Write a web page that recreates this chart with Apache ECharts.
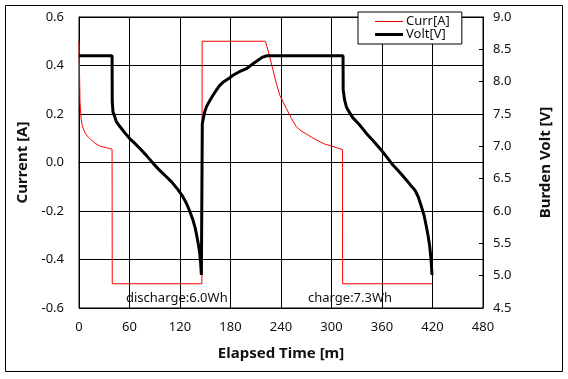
<!DOCTYPE html>
<html>
<head>
<meta charset="utf-8">
<script src="https://cdn.jsdelivr.net/npm/echarts@6/dist/echarts.min.js"></script>
<style>
html,body{margin:0;padding:0;background:#fff;}
#chart{width:568px;height:379px;}
</style>
</head>
<body>
<div id="chart"></div>
<script>
// ---- data ----
const xTicks = [0, 60, 120, 180, 240, 300, 360, 420, 480];
const currTime = [0, 1.2, 2.5, 4, 6.8, 9.5, 12.7, 15.5, 18.7, 21.5, 24.6, 28.5, 32.6, 36, 39.3, 39.5,
  146, 146.3, 221.5, 223.4, 226.6, 230.5, 234.5, 238.5, 242.4, 246.4, 252.3, 258.3, 264, 270, 276, 282,
  291.9, 299.9, 306, 313, 313.2, 419.9];
const currA = [0.5, 0.25, 0.18, 0.15, 0.125, 0.11, 0.1, 0.09, 0.081, 0.074, 0.068, 0.064, 0.061, 0.058, 0.055, -0.5,
  -0.5, 0.5, 0.5, 0.477, 0.435, 0.381, 0.326, 0.278, 0.25, 0.223, 0.182, 0.147, 0.13, 0.118, 0.105, 0.093,
  0.076, 0.068, 0.061, 0.054, -0.5, -0.5];
const voltTime = [0, 39.3, 39.5, 40.4, 42.4, 44.4, 48.4, 50.4, 55, 60.2, 66, 72.1, 80, 87.9, 95, 103.8, 110,
  117.6, 123, 127.6, 131.5, 135.4, 138, 140.2, 142, 143.4, 144.5, 145.4, 146.5, 149.3, 151.4, 153.3, 156,
  159.2, 163.2, 167, 171, 177, 183, 190, 198.9, 205, 212.7, 218, 223.4, 313.7, 313.9, 315.7, 317.7, 319.6,
  325.5, 333.5, 341.5, 350, 359.3, 366, 373, 381, 388.9, 394, 398.8, 403, 406.8, 410, 412.7, 415, 416.7,
  418.3, 419.4];
const voltV = [8.4, 8.4, 7.69, 7.53, 7.46, 7.38, 7.31, 7.28, 7.2, 7.12, 7.05, 6.97, 6.86, 6.74, 6.64, 6.53, 6.45,
  6.33, 6.23, 6.12, 6.0, 5.86, 5.74, 5.6, 5.47, 5.35, 5.2, 5.01, 7.35, 7.53, 7.61, 7.66, 7.72,
  7.79, 7.87, 7.94, 7.99, 8.04, 8.1, 8.15, 8.2, 8.26, 8.33, 8.38, 8.4, 8.4, 7.87, 7.71, 7.61, 7.56,
  7.44, 7.33, 7.2, 7.08, 6.94, 6.83, 6.71, 6.6, 6.48, 6.4, 6.33, 6.22, 6.07, 5.93, 5.76, 5.6, 5.45,
  5.25, 5.01];
const seriesNames = ['Curr[A]', 'Volt[V]'];
const annotations = ['discharge:6.0Wh', 'charge:7.3Wh'];
const axisNames = ['Elapsed Time [m]', 'Current [A]', 'Burden Volt [V]'];

const FONT = '"Noto Sans", "DejaVu Sans", sans-serif';
const TXT = '#111';

const chart = echarts.init(document.getElementById('chart'), null, {renderer: 'canvas'});
const fmt1 = v => (Math.abs(v) < 1e-9 ? 0 : v).toFixed(1);

chart.setOption({
  animation: false,
  backgroundColor: '#fff',
  grid: {left: 79, right: 85, top: 17, bottom: 71, show: true, borderColor: '#000', borderWidth: 1, backgroundColor: 'transparent'},
  legend: {
    orient: 'vertical', left: 358, top: 12,
    padding: [3, 12, 3, 17], itemGap: 0, itemWidth: 28, itemHeight: 14,
    symbolKeepAspect: true,
    backgroundColor: '#fff', borderColor: '#000', borderWidth: 1,
    textStyle: {fontFamily: FONT, fontSize: 13, color: TXT, padding: [0, 0, 0, -2]},
    data: [
      {name: seriesNames[0], icon: 'path://M0,0H28V1H0Z', itemStyle: {color: '#ff0000', borderWidth: 0}},
      {name: seriesNames[1], icon: 'path://M0,0H28V3H0Z', itemStyle: {color: '#000', borderWidth: 0}}
    ]
  },
  xAxis: {
    type: 'value', min: xTicks[0], max: xTicks[xTicks.length - 1], interval: 60,
    name: axisNames[0], nameLocation: 'middle', nameGap: 38,
    nameTextStyle: {fontFamily: FONT, fontSize: 15, fontWeight: 'bold', color: TXT},
    axisLine: {lineStyle: {color: '#000', width: 1}},
    axisTick: {show: false},
    axisLabel: {fontFamily: FONT, fontSize: 13, color: TXT, margin: 13},
    splitLine: {show: true, lineStyle: {color: '#000', width: 1}}
  },
  yAxis: [{
    type: 'value', min: -0.6, max: 0.6, interval: 0.2,
    name: axisNames[1], nameLocation: 'middle', nameGap: 48, nameRotate: 90,
    nameTextStyle: {fontFamily: FONT, fontSize: 15, fontWeight: 'bold', color: TXT},
    axisLine: {show: true, lineStyle: {color: '#000', width: 1}},
    axisTick: {show: false},
    axisLabel: {fontFamily: FONT, fontSize: 13, color: TXT, margin: 15, formatter: fmt1},
    splitLine: {show: true, lineStyle: {color: '#000', width: 1}}
  }, {
    type: 'value', min: 4.5, max: 9.0, interval: 0.5, position: 'right',
    name: axisNames[2], nameLocation: 'middle', nameGap: 55, nameRotate: 90,
    nameTextStyle: {fontFamily: FONT, fontSize: 15, fontWeight: 'bold', color: TXT},
    axisLine: {show: true, lineStyle: {color: '#000', width: 1}},
    axisTick: {show: true, inside: true, length: 4, lineStyle: {color: '#000'}},
    axisLabel: {fontFamily: FONT, fontSize: 13, color: TXT, margin: 10, formatter: fmt1},
    splitLine: {show: false}
  }],
  series: [{
    name: seriesNames[0], type: 'line', yAxisIndex: 0, symbol: 'none',
    lineStyle: {color: '#ff0000', width: 1}, itemStyle: {color: '#ff0000'},
    data: currTime.map((t, i) => [t, currA[i]])
  }, {
    name: seriesNames[1], type: 'line', yAxisIndex: 1, symbol: 'none',
    lineStyle: {color: '#000', width: 3}, itemStyle: {color: '#000'},
    data: voltTime.map((t, i) => [t, voltV[i]])
  }],
  graphic: [
    {type: 'rect', shape: {x: 5.5, y: 5.5, width: 557, height: 366}, style: {fill: null, stroke: '#000', lineWidth: 1}, silent: true},
    {type: 'text', left: 126, top: 292, style: {text: annotations[0], font: '13px ' + FONT, fill: TXT}},
    {type: 'text', left: 308, top: 292, style: {text: annotations[1], font: '13px ' + FONT, fill: TXT}}
  ]
});
</script>
</body>
</html>
